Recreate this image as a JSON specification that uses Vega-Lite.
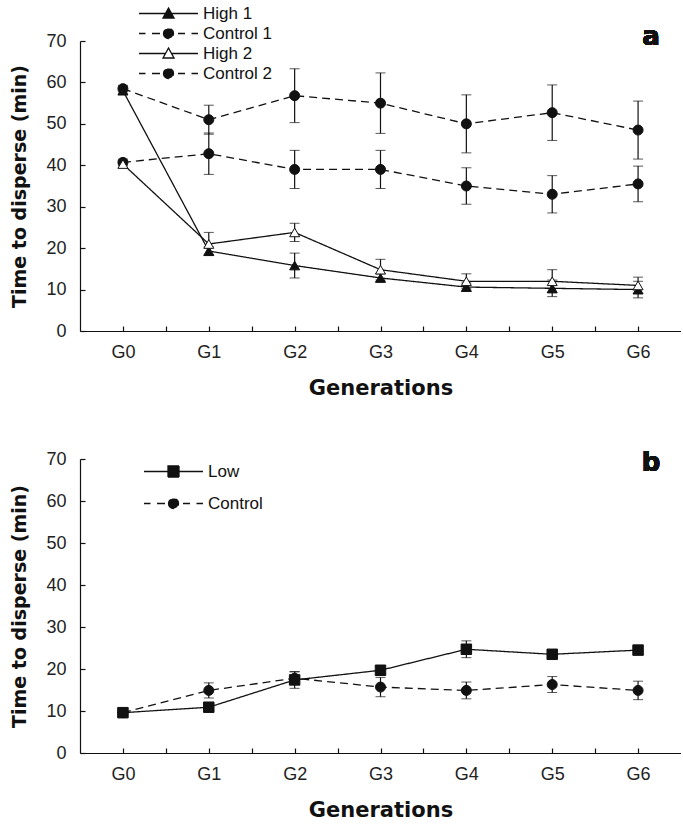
{
  "$schema": "https://vega.github.io/schema/vega-lite/v6.json",
  "background": "white",
  "padding": {"left": 10, "top": 5, "right": 0, "bottom": 0},
  "spacing": 52,
  "resolve": {"scale": {"strokeDash": "independent", "color": "independent"}, "legend": {"strokeDash": "independent", "color": "independent"}},
  "datasets": {
    "panelA": [
      {"series": "High 1", "gen": 0, "mean": 58.0, "err": 0.8},
      {"series": "High 1", "gen": 1, "mean": 19.3, "err": 1.0},
      {"series": "High 1", "gen": 2, "mean": 15.8, "err": 3.0},
      {"series": "High 1", "gen": 3, "mean": 12.8, "err": 1.0},
      {"series": "High 1", "gen": 4, "mean": 10.6, "err": 1.0},
      {"series": "High 1", "gen": 5, "mean": 10.3, "err": 2.0},
      {"series": "High 1", "gen": 6, "mean": 10.0, "err": 2.0},
      {"series": "Control 1", "gen": 0, "mean": 58.5, "err": 0.8},
      {"series": "Control 1", "gen": 1, "mean": 51.0, "err": 3.5},
      {"series": "Control 1", "gen": 2, "mean": 56.8, "err": 6.5},
      {"series": "Control 1", "gen": 3, "mean": 55.0, "err": 7.3},
      {"series": "Control 1", "gen": 4, "mean": 50.0, "err": 7.0},
      {"series": "Control 1", "gen": 5, "mean": 52.7, "err": 6.7},
      {"series": "Control 1", "gen": 6, "mean": 48.5, "err": 7.0},
      {"series": "High 2", "gen": 0, "mean": 40.3, "err": 0.8},
      {"series": "High 2", "gen": 1, "mean": 21.0, "err": 2.8},
      {"series": "High 2", "gen": 2, "mean": 23.8, "err": 2.2},
      {"series": "High 2", "gen": 3, "mean": 14.8, "err": 2.5},
      {"series": "High 2", "gen": 4, "mean": 12.0, "err": 1.8},
      {"series": "High 2", "gen": 5, "mean": 12.0, "err": 2.8},
      {"series": "High 2", "gen": 6, "mean": 11.0, "err": 2.0},
      {"series": "Control 2", "gen": 0, "mean": 40.7, "err": 0.8},
      {"series": "Control 2", "gen": 1, "mean": 42.8, "err": 5.0},
      {"series": "Control 2", "gen": 2, "mean": 39.0, "err": 4.6},
      {"series": "Control 2", "gen": 3, "mean": 39.0, "err": 4.6},
      {"series": "Control 2", "gen": 4, "mean": 35.0, "err": 4.4},
      {"series": "Control 2", "gen": 5, "mean": 33.0, "err": 4.5},
      {"series": "Control 2", "gen": 6, "mean": 35.5, "err": 4.3}
    ],
    "panelB": [
      {"series": "Low", "gen": 0, "mean": 9.6, "err": 0.8},
      {"series": "Low", "gen": 1, "mean": 10.9, "err": 1.0},
      {"series": "Low", "gen": 2, "mean": 17.4, "err": 2.0},
      {"series": "Low", "gen": 3, "mean": 19.7, "err": 1.0},
      {"series": "Low", "gen": 4, "mean": 24.7, "err": 2.0},
      {"series": "Low", "gen": 5, "mean": 23.5, "err": 1.0},
      {"series": "Low", "gen": 6, "mean": 24.5, "err": 1.0},
      {"series": "Control", "gen": 0, "mean": 9.6, "err": 0.8},
      {"series": "Control", "gen": 1, "mean": 14.9, "err": 1.8},
      {"series": "Control", "gen": 2, "mean": 17.8, "err": 1.5},
      {"series": "Control", "gen": 3, "mean": 15.7, "err": 2.3},
      {"series": "Control", "gen": 4, "mean": 14.9, "err": 2.0},
      {"series": "Control", "gen": 5, "mean": 16.3, "err": 1.9},
      {"series": "Control", "gen": 6, "mean": 14.9, "err": 2.2}
    ]
  },
  "vconcat": [
    {
      "width": 601,
      "height": 290,
      "data": {"name": "panelA"},
      "layer": [
        {
          "mark": {"type": "line", "strokeWidth": 1.3},
          "encoding": {
            "x": {"field": "gen", "type": "quantitative", "scale": {"domain": [-0.5, 6.5], "nice": false, "zero": false},
              "axis": {"values": [0, 0.5, 1, 1.5, 2, 2.5, 3, 3.5, 4, 4.5, 5, 5.5, 6], "labelExpr": "datum.value % 1 == 0 ? 'G' + datum.value : ''", "labelOverlap": false, "labelFlush": false, "labelBound": false, "tickSize": -5, "labelPadding": 17, "titlePadding": 16, "title": "Generations", "titleFontSize": 21}},
            "y": {"field": "mean", "type": "quantitative", "scale": {"domain": [0, 70], "nice": false},
              "axis": {"values": [0, 10, 20, 30, 40, 50, 60, 70], "tickSize": -5, "labelPadding": 19, "titlePadding": 16, "title": "Time to disperse (min)", "titleFontSize": 19}},
            "strokeDash": {"field": "series", "type": "nominal", "legend": null,
              "scale": {"domain": ["High 1", "Control 1", "High 2", "Control 2"], "range": [[1, 0], [8, 5], [1, 0], [8, 5]]}},
            "color": {"field": "series", "type": "nominal",
              "scale": {"domain": ["High 1", "Control 1", "High 2", "Control 2"], "range": ["#111", "#111", "#111", "#111"]},
              "legend": {"orient": "none", "legendX": 80, "legendY": -36, "title": null, "padding": 0,
                "labelFont": "Liberation Sans", "labelFontSize": 17, "labelColor": "#111", "symbolSize": 100, "labelOffset": 26, "rowPadding": 2,
                "symbolType": {"expr": "datum.value == 'High 1' ? 'M-5.9,0H5.9M0,-1.1L1.1,0.9L-1.1,0.9Z' : datum.value == 'High 2' ? 'M-5.9,0H-0.6M0.6,0H5.9M0,-1.1L1.1,0.9L-1.1,0.9Z' : 'M-5.9,0H-4.6M-3.3,0H3.3M4.6,0H5.9M-1,0A1,1 0 1,0 1,0A1,1 0 1,0 -1,0Z'"},
                "symbolFillColor": {"expr": "datum.value == 'High 2' ? 'white' : '#111'"},
                "symbolStrokeColor": "#111", "symbolStrokeWidth": 1.3, "symbolOpacity": 1}}
          }
        },
        {
          "mark": {"type": "errorbar", "ticks": {"size": 10, "color": "#111", "strokeWidth": 1.2}, "rule": {"color": "#111", "strokeWidth": 1.2}},
          "encoding": {
            "x": {"field": "gen", "type": "quantitative"},
            "y": {"field": "mean", "type": "quantitative", "title": "Time to disperse (min)"},
            "yError": {"field": "err"}
          }
        },
        {
          "transform": [{"filter": "datum.series == 'Control 1' || datum.series == 'Control 2'"}],
          "mark": {"type": "point", "shape": "circle", "filled": true, "fill": "#111", "stroke": "#111", "strokeWidth": 1, "opacity": 1, "size": 100},
          "encoding": {
            "x": {"field": "gen", "type": "quantitative"},
            "y": {"field": "mean", "type": "quantitative", "title": "Time to disperse (min)"}
          }
        },
        {
          "transform": [{"filter": "datum.series == 'High 1'"}],
          "mark": {"type": "point", "shape": "triangle-up", "filled": true, "fill": "#111", "stroke": "#111", "strokeWidth": 1, "opacity": 1, "size": 100},
          "encoding": {
            "x": {"field": "gen", "type": "quantitative"},
            "y": {"field": "mean", "type": "quantitative", "title": "Time to disperse (min)"}
          }
        },
        {
          "transform": [{"filter": "datum.series == 'High 2'"}],
          "mark": {"type": "point", "shape": "triangle-up", "filled": true, "fill": "white", "stroke": "#111", "strokeWidth": 1, "opacity": 1, "size": 100},
          "encoding": {
            "x": {"field": "gen", "type": "quantitative"},
            "y": {"field": "mean", "type": "quantitative", "title": "Time to disperse (min)"}
          }
        },
        {
          "mark": {"type": "text", "font": "DejaVu Sans", "fontWeight": "bold", "fontSize": 26, "dx": 13, "dy": -4, "baseline": "middle", "color": "#111"},
          "encoding": {"x": {"datum": 6}, "y": {"datum": 70}, "text": {"value": "a"}}
        }
      ]
    },
    {
      "width": 601,
      "height": 294,
      "data": {"name": "panelB"},
      "layer": [
        {
          "mark": {"type": "line", "strokeWidth": 1.3},
          "encoding": {
            "x": {"field": "gen", "type": "quantitative", "scale": {"domain": [-0.5, 6.5], "nice": false, "zero": false},
              "axis": {"values": [0, 0.5, 1, 1.5, 2, 2.5, 3, 3.5, 4, 4.5, 5, 5.5, 6], "labelExpr": "datum.value % 1 == 0 ? 'G' + datum.value : ''", "labelOverlap": false, "labelFlush": false, "labelBound": false, "tickSize": -5, "labelPadding": 17, "titlePadding": 16, "title": "Generations", "titleFontSize": 21}},
            "y": {"field": "mean", "type": "quantitative", "scale": {"domain": [0, 70], "nice": false},
              "axis": {"values": [0, 10, 20, 30, 40, 50, 60, 70], "tickSize": -5, "labelPadding": 19, "titlePadding": 16, "title": "Time to disperse (min)", "titleFontSize": 19}},
            "strokeDash": {"field": "series", "type": "nominal", "legend": null,
              "scale": {"domain": ["Low", "Control"], "range": [[1, 0], [8, 5]]}},
            "color": {"field": "series", "type": "nominal",
              "scale": {"domain": ["Low", "Control"], "range": ["#111", "#111"]},
              "legend": {"orient": "none", "legendX": 85, "legendY": 4, "title": null, "padding": 0,
                "labelFont": "Liberation Sans", "labelFontSize": 17, "labelColor": "#111", "symbolSize": 100, "labelOffset": 26, "rowPadding": 14,
                "symbolType": {"expr": "datum.value == 'Low' ? 'M-5.9,0H5.9M-1.1,-1.1H1.1V1.1H-1.1Z' : 'M-5.9,0H-4.6M-3.3,0H3.3M4.6,0H5.9M-1,0A1,1 0 1,0 1,0A1,1 0 1,0 -1,0Z'"},
                "symbolFillColor": "#111",
                "symbolStrokeColor": "#111", "symbolStrokeWidth": 1.3, "symbolOpacity": 1}}
          }
        },
        {
          "mark": {"type": "errorbar", "ticks": {"size": 10, "color": "#111", "strokeWidth": 1.2}, "rule": {"color": "#111", "strokeWidth": 1.2}},
          "encoding": {
            "x": {"field": "gen", "type": "quantitative"},
            "y": {"field": "mean", "type": "quantitative", "title": "Time to disperse (min)"},
            "yError": {"field": "err"}
          }
        },
        {
          "transform": [{"filter": "datum.series == 'Control'"}],
          "mark": {"type": "point", "shape": "circle", "filled": true, "fill": "#111", "stroke": "#111", "strokeWidth": 1, "opacity": 1, "size": 100},
          "encoding": {
            "x": {"field": "gen", "type": "quantitative"},
            "y": {"field": "mean", "type": "quantitative", "title": "Time to disperse (min)"}
          }
        },
        {
          "transform": [{"filter": "datum.series == 'Low'"}],
          "mark": {"type": "point", "shape": "square", "filled": true, "fill": "#111", "stroke": "#111", "strokeWidth": 1, "opacity": 1, "size": 110},
          "encoding": {
            "x": {"field": "gen", "type": "quantitative"},
            "y": {"field": "mean", "type": "quantitative", "title": "Time to disperse (min)"}
          }
        },
        {
          "mark": {"type": "text", "font": "DejaVu Sans", "fontWeight": "bold", "fontSize": 26, "dx": 13, "dy": 4, "baseline": "middle", "color": "#111"},
          "encoding": {"x": {"datum": 6}, "y": {"datum": 70}, "text": {"value": "b"}}
        }
      ]
    }
  ],
  "config": {
    "view": {"stroke": null},
    "axis": {"grid": false, "domainColor": "#111", "domainWidth": 1.2, "tickColor": "#111", "tickWidth": 1.2,
      "labelFont": "Liberation Sans", "labelFontSize": 18, "labelColor": "#222",
      "titleFont": "DejaVu Sans", "titleFontWeight": "bold", "titleFontSize": 20, "titleColor": "#111"}
  }
}
